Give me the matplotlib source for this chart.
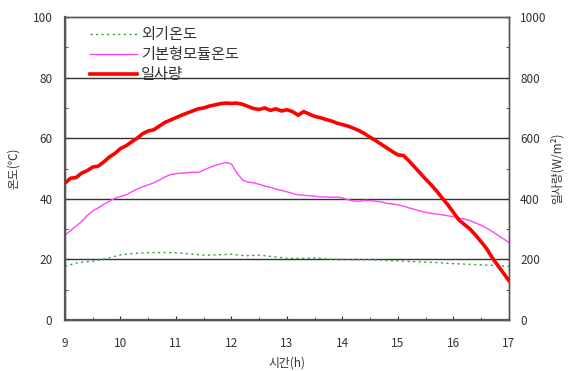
import matplotlib.pyplot as plt
import numpy as np

plt.rcParams['font.family'] = ['Noto Sans CJK KR', 'DejaVu Sans']

# time in hours, 0.1 h steps for the two dense series
hours = np.linspace(9, 17, 81)

# solar radiation (W/m2)
radiation = [452, 468, 470, 485, 493, 505, 508, 522, 538, 550,
             566, 575, 588, 600, 615, 624, 628, 640, 652, 660,
             668, 676, 683, 690, 697, 700, 706, 710, 714, 716,
             715, 716, 712, 705, 698, 695, 700, 692, 697, 690,
             694, 688, 676, 688, 680, 672, 668, 662, 657, 650,
             645, 640, 633, 625, 615, 603, 592, 580, 568, 556,
             545, 543, 525, 505, 485, 465, 446, 425, 402, 380,
             355, 330, 315, 300, 280, 258, 235, 205, 180, 155,
             130]

# module temperature (C)
module_temp = [28.0, 29.5, 31.0, 32.5, 34.5, 36.0, 37.0, 38.2, 39.2, 40.2,
               40.8, 41.3, 42.3, 43.2, 44.0, 44.6, 45.3, 46.2, 47.2, 48.0,
               48.3, 48.5, 48.6, 48.8, 48.7, 49.5, 50.3, 51.0, 51.5, 52.0,
               51.5, 48.5, 46.2, 45.5, 45.3, 44.8, 44.2, 43.8, 43.2, 42.8,
               42.3, 41.8, 41.3, 41.2, 41.0, 40.9, 40.6, 40.7, 40.5, 40.6,
               40.3, 39.7, 39.3, 39.2, 39.5, 39.4, 39.2, 39.0, 38.5, 38.3,
               38.0, 37.6, 37.0, 36.5, 36.0, 35.5, 35.2, 35.0, 34.7, 34.4,
               34.1, 33.7, 33.3, 32.8, 32.0, 31.3, 30.3, 29.2, 28.0, 26.8,
               25.6]

# outside temperature (C), 0.25 h steps
hours_out = np.linspace(9, 17, 33)
outside_temp = [17.8, 19.0, 19.4, 20.3, 21.5, 22.0, 22.2, 22.3, 22.2, 21.8,
                21.4, 21.5, 21.7, 21.2, 21.4, 20.9, 20.4, 20.3, 20.5, 20.1,
                20.0, 19.9, 19.9, 19.7, 19.5, 19.3, 19.1, 18.9, 18.6, 18.4,
                18.2, 18.0, 17.7]

fig = plt.figure(figsize=(5.68, 3.71), dpi=100)
ax = fig.add_axes([0.1144, 0.1375, 0.7816, 0.8165])
ax2 = ax.twinx()

for y in [20, 40, 60, 80]:
    ax.axhline(y, color='#333333', lw=1.0, zorder=1)

l1, = ax.plot(hours_out, outside_temp, color='#33a033', lw=1.0, ls=(0, (1.5, 2.5)), zorder=3)
l2, = ax.plot(hours, module_temp, color='#ff44ff', lw=1.0, zorder=3)
l3, = ax2.plot(hours, radiation, color='#ff0000', lw=2.6, zorder=3)

ax.set_xlim(9, 17)
ax.set_ylim(0, 100)
ax2.set_ylim(0, 1000)
ax.set_xticks(range(9, 18))
ax.set_xticks(np.arange(9, 17.01, 0.5), minor=True)
ax.set_yticks(range(0, 101, 20))
ax.set_yticks(range(0, 101, 10), minor=True)
ax2.set_yticks(range(0, 1001, 200))
ax2.set_yticks(range(0, 1001, 100), minor=True)

tc = '#333333'
for a in (ax, ax2):
    a.tick_params(which='both', direction='in', colors=tc, labelsize=8.5, length=3, pad=9)
    a.tick_params(which='minor', length=2)
    for s in a.spines.values():
        s.set_color('#555555')
        s.set_linewidth(1.0)
ax.tick_params(axis='x', pad=12)
ax2.tick_params(axis='y', pad=8)
ax.spines['left'].set_linewidth(1.6)
ax.spines['bottom'].set_linewidth(1.6)

ax.set_xlabel('시간(h)', fontsize=8.5, color=tc, labelpad=5)
ax.set_ylabel('온도(℃)', fontsize=8.5, color=tc, labelpad=9)
ax2.set_ylabel('일사량(W/m²)', fontsize=8.5, color=tc, labelpad=3)

leg = ax.legend([l1, l2, l3], ['외기온도', '기본형모듈온도', '일사량'],
                loc='upper left', bbox_to_anchor=(0.056, 0.97), frameon=False,
                fontsize=11, handlelength=3.1, handletextpad=0.25,
                labelspacing=0.2, borderaxespad=0, borderpad=0)
for t in leg.get_texts():
    t.set_color(tc)

plt.savefig('out.png', dpi=100)
